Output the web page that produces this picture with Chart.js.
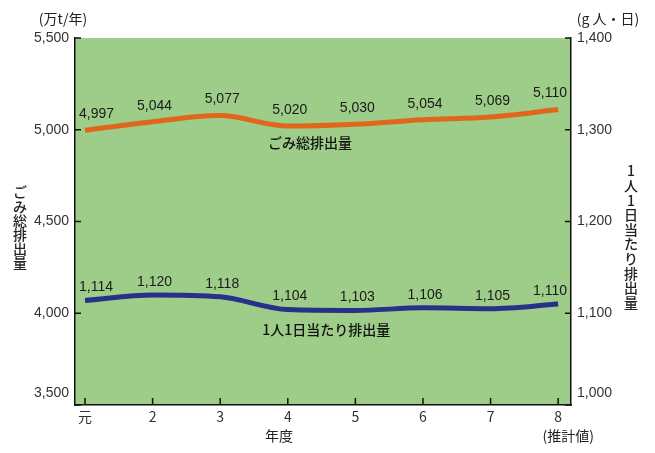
<!DOCTYPE html>
<html lang="ja">
<head>
    <meta charset="UTF-8">
    <title>ごみ総排出量</title>
    <script src="https://cdn.jsdelivr.net/npm/chart.js"></script>
    <style>
        body {
            margin: 0;
            background: #ffffff;
        }
        #wrap {
            width: 655px;
            height: 453px;
        }
    </style>
</head>
<body>
    <div id="wrap">
        <canvas id="grafica" width="655" height="453"></canvas>
    </div>

    <script>
        // 年度 (平成)
        const years = ['元', '2', '3', '4', '5', '6', '7', '8'];
        // ごみ総排出量 (万t/年)
        const totalWaste = [4997, 5044, 5077, 5020, 5030, 5054, 5069, 5110];
        // 1人1日当たり排出量 (g/人・日)
        const perCapita = [1114, 1120, 1118, 1104, 1103, 1106, 1105, 1110];
        const leftTicks = [3500, 4000, 4500, 5000, 5500];
        const rightTicks = [1000, 1100, 1200, 1300, 1400];

        const jpFont = '"Noto Sans CJK JP", "Noto Sans", sans-serif';
        const numFont = '"Liberation Sans", Arial, sans-serif';

        function fmt(v) {
            return v.toLocaleString('en-US');
        }

        // 背景の緑
        const fondo = {
            id: 'fondo',
            beforeDraw(chart) {
                const { ctx, chartArea: a } = chart;
                ctx.save();
                ctx.fillStyle = '#9dcd89';
                ctx.fillRect(a.left, a.top, a.right - a.left, a.bottom - a.top);
                ctx.restore();
            }
        };

        // 目盛り・ラベル・注記
        const textos = {
            id: 'textos',
            afterDraw(chart) {
                const { ctx, chartArea: a, scales } = chart;
                const x = scales.x, yl = scales.y, yr = scales.y1;
                ctx.save();
                ctx.strokeStyle = '#111';
                ctx.lineWidth = 1.5;

                // 内向きの目盛り
                leftTicks.forEach(t => {
                    const py = yl.getPixelForValue(t);
                    ctx.beginPath(); ctx.moveTo(a.left, py); ctx.lineTo(a.left + 6, py); ctx.stroke();
                });
                rightTicks.forEach(t => {
                    const py = yr.getPixelForValue(t);
                    ctx.beginPath(); ctx.moveTo(a.right, py); ctx.lineTo(a.right - 6, py); ctx.stroke();
                });
                years.forEach((y, i) => {
                    const px = x.getPixelForValue(i);
                    ctx.beginPath(); ctx.moveTo(px, a.bottom); ctx.lineTo(px, a.bottom - 7); ctx.stroke();
                });

                // 目盛りラベル
                ctx.fillStyle = '#333';
                ctx.font = '14px ' + numFont;
                ctx.textBaseline = 'middle';
                ctx.textAlign = 'right';
                leftTicks.forEach(t => {
                    const py = Math.min(yl.getPixelForValue(t), a.bottom - 12);
                    ctx.fillText(fmt(t), a.left - 6, py);
                });
                ctx.textAlign = 'left';
                rightTicks.forEach(t => {
                    const py = Math.min(yr.getPixelForValue(t), a.bottom - 12);
                    ctx.fillText(fmt(t), a.right + 6, py);
                });
                ctx.textAlign = 'center';
                ctx.font = '14px ' + jpFont;
                years.forEach((y, i) => {
                    ctx.fillText(y, x.getPixelForValue(i), a.bottom + 12);
                });

                // データラベル
                ctx.fillStyle = '#1a1a1a';
                ctx.font = '14px ' + numFont;
                const etiquetas = (vals, escala, desp) => {
                    vals.forEach((v, i) => {
                        const txt = fmt(v);
                        const w = ctx.measureText(txt).width;
                        let cx = x.getPixelForValue(i) + 2;
                        cx = Math.max(cx, a.left + 4 + w / 2);
                        cx = Math.min(cx, a.right - 4 - w / 2);
                        ctx.fillText(txt, cx, escala.getPixelForValue(v) - desp);
                    });
                };
                etiquetas(totalWaste, yl, 16);
                etiquetas(perCapita, yr, 13);

                // 系列名
                ctx.font = '500 14px ' + jpFont;
                ctx.fillStyle = '#111';
                ctx.fillText('ごみ総排出量', x.getPixelForValue(3.33), yl.getPixelForValue(4928));
                ctx.fillText('1人1日当たり排出量', x.getPixelForValue(3.57), yr.getPixelForValue(1082));

                // 軸タイトル
                ctx.font = '14px ' + jpFont;
                ctx.fillStyle = '#222';
                ctx.fillText('(万t/年)', 63, 19);
                ctx.fillText('(g 人・日)', 608, 19);
                ctx.fillText('年度', x.getPixelForValue(2.87), a.bottom + 31);
                ctx.fillText('(推計値)', x.getPixelForValue(7) + 10, a.bottom + 31);

                ctx.font = '500 14px ' + jpFont;
                Array.from('ごみ総排出量').forEach((c, i) => {
                    ctx.fillText(c, 20, 192 + i * 14.2);
                });
                Array.from('1人1日当たり排出量').forEach((c, i) => {
                    ctx.fillText(c, 631, 171 + i * 14.6);
                });
                ctx.restore();
            }
        };

        new Chart(document.getElementById('grafica').getContext('2d'), {
            type: 'line',
            data: {
                datasets: [
                    {
                        label: 'ごみ総排出量',
                        data: totalWaste.map((v, i) => ({ x: i, y: v })),
                        yAxisID: 'y',
                        borderColor: '#e0661c',
                        borderWidth: 5,
                        pointRadius: 0,
                        cubicInterpolationMode: 'monotone',
                        fill: false
                    },
                    {
                        label: '1人1日当たり排出量',
                        data: perCapita.map((v, i) => ({ x: i, y: v })),
                        yAxisID: 'y1',
                        borderColor: '#26318a',
                        borderWidth: 5,
                        pointRadius: 0,
                        cubicInterpolationMode: 'monotone',
                        fill: false
                    }
                ]
            },
            options: {
                responsive: false,
                animation: false,
                devicePixelRatio: 1,
                layout: { padding: { left: 75, right: 84, top: 38, bottom: 48 } },
                plugins: {
                    legend: { display: false },
                    tooltip: { enabled: false }
                },
                scales: {
                    x: {
                        type: 'linear',
                        min: -0.148,
                        max: 7.19,
                        grid: { display: false, drawTicks: false },
                        ticks: { display: false },
                        border: { display: true, color: '#111', width: 1.5 }
                    },
                    y: {
                        position: 'left',
                        min: 3500,
                        max: 5500,
                        grid: { display: false, drawTicks: false },
                        ticks: { display: false },
                        border: { display: true, color: '#111', width: 1.5 }
                    },
                    y1: {
                        position: 'right',
                        min: 1000,
                        max: 1400,
                        grid: { display: false, drawTicks: false },
                        ticks: { display: false },
                        border: { display: true, color: '#111', width: 1.5 }
                    }
                }
            },
            plugins: [fondo, textos]
        });
    </script>
</body>
</html>
